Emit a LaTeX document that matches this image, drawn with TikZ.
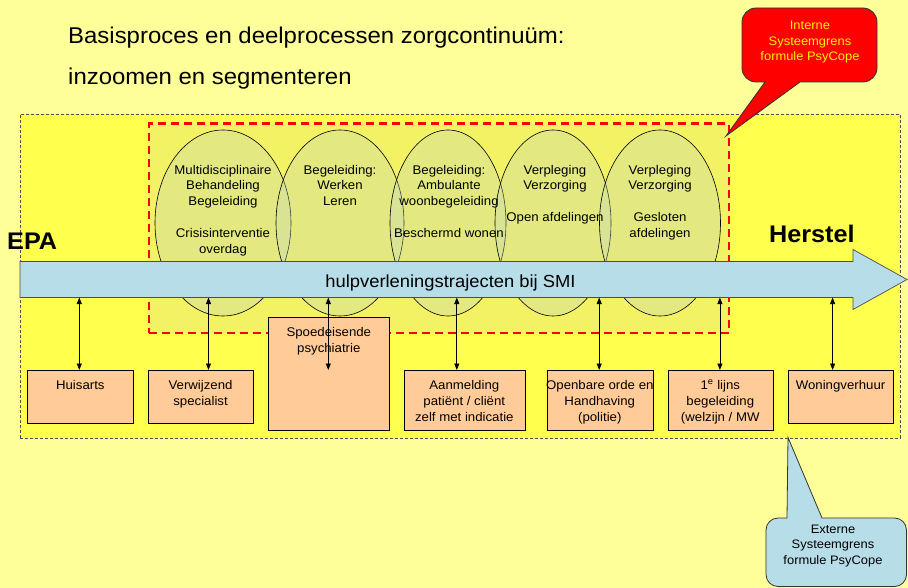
\documentclass[tikz,border=0pt]{standalone}
\usepackage{fontspec}
\setmainfont{Liberation Sans}[FakeStretch=1.05]
\usetikzlibrary{shapes.geometric,arrows.meta}

\definecolor{paleyellow}{HTML}{FFFF99}
\definecolor{brightyellow}{HTML}{FFFF4D}
\definecolor{zonefill}{RGB}{242,242,100}
\definecolor{ovalfill}{RGB}{195,215,195}
\definecolor{barblue}{HTML}{B7DDE8}
\definecolor{peach}{HTML}{FFCC99}
\definecolor{edgegray}{HTML}{4D4D4D}

\newcommand{\txtsize}{\fontsize{12.6}{15.8}\selectfont}

\begin{document}
\begin{tikzpicture}[x=1pt,y=-1pt,
  outerzone/.style={draw=edgegray, line width=0.7pt, dash pattern=on 3pt off 2pt,
    fill=brightyellow, inner sep=0pt, anchor=north west},
  innerzone/.style={draw=red, line width=2.2pt, dash pattern=on 8pt off 5pt,
    fill=zonefill, inner sep=0pt, anchor=north west},
  oval/.style={ellipse, draw=black, line width=0.6pt, fill=ovalfill,
    fill opacity=0.3, inner sep=0pt},
  ovaltext/.style={font=\txtsize, align=center, inner sep=0pt, anchor=north},
  fillbox/.style={draw=black, line width=0.6pt, fill=peach, inner sep=0pt,
    anchor=north west},
  boxtext/.style={font=\fontsize{12.6}{16}\selectfont, align=center,
    inner sep=0pt, anchor=north},
  link/.style={line width=0.8pt, >={Triangle[length=6.5pt,width=5pt]}, <->},
  calloutline/.style={line width=0.8pt, draw=black!80},
  callouttext/.style={font=\fontsize{12.3}{15.5}\selectfont, align=center,
    inner sep=0pt, anchor=north}
]
\useasboundingbox (0,0) rectangle (908,588);
\fill[paleyellow] (0,0) rectangle (908,588);

% headings
\node[anchor=base west, inner sep=0pt, font=\fontsize{22.8}{27}\selectfont]
  (title1) at (68,43.7) {Basisproces en deelprocessen zorgcontinuüm:};
\node[anchor=base west, inner sep=0pt, font=\fontsize{22.8}{27}\selectfont]
  (title2) at (68,85) {inzoomen en segmenteren};

% outer (external) system boundary
\node[outerzone, minimum width=880pt, minimum height=324pt] (zone) at (20,114) {};

% inner (internal) system boundary
\node[innerzone, minimum width=580pt, minimum height=209pt] (intern) at (147.5,122.5) {};

% care processes
\node[oval, minimum width=136pt, minimum height=186pt] (e1) at (223,223) {};
\node[oval, minimum width=128pt, minimum height=186pt] (e2) at (340,223) {};
\node[oval, minimum width=116pt, minimum height=186pt] (e3) at (448,223) {};
\node[oval, minimum width=116pt, minimum height=186pt] (e4) at (553,223) {};
\node[oval, minimum width=121pt, minimum height=186pt] (e5) at (660,223) {};

\node[ovaltext] (t1) at (223,164.8)
  {Multidisciplinaire\\Behandeling\\Begeleiding\\[15.8pt]Crisisinterventie\\overdag};
\node[ovaltext] (t2) at (340,164.8) {Begeleiding:\\Werken\\Leren};
\node[ovaltext] (t3) at (449,164.8)
  {Begeleiding:\\Ambulante\\woonbegeleiding\\[15.8pt]Beschermd wonen};
\node[ovaltext] (t4) at (555,164.8) {Verpleging\\Verzorging\\[15.8pt]Open afdelingen};
\node[ovaltext] (t5) at (660,164.8)
  {Verpleging\\Verzorging\\[15.8pt]Gesloten\\afdelingen};

% main trajectory arrow
\draw[fill=barblue, draw=edgegray, line width=0.7pt]
  (20,261.5) -- (853,261.5) -- (853,249.5) -- (907,279.5) -- (853,309.5)
  -- (853,297.5) -- (20,297.5) -- cycle;
\node[anchor=base, inner sep=0pt, font=\fontsize{17.5}{21}\selectfont]
  (barlabel) at (450.5,287.3) {hulpverleningstrajecten bij SMI};

\node[anchor=base west, inner sep=0pt, font=\bfseries\fontsize{24}{28}\selectfont]
  (epa) at (7,250) {EPA};
\node[anchor=base west, inner sep=0pt, font=\bfseries\fontsize{24}{28}\selectfont]
  (herstel) at (769,242.7) {Herstel};

% partners
\node[fillbox, minimum width=106pt, minimum height=53pt] (huis) at (27,370) {};
\node[fillbox, minimum width=105.5pt, minimum height=53pt] (verw) at (147.5,370) {};
\node[fillbox, minimum width=121pt, minimum height=113pt] (spoed) at (268,317) {};
\node[fillbox, minimum width=121pt, minimum height=60pt] (aanm) at (403.5,370) {};
\node[fillbox, minimum width=106pt, minimum height=60pt] (orde) at (546.5,370) {};
\node[fillbox, minimum width=105pt, minimum height=60pt] (lijn) at (667.5,370) {};
\node[fillbox, minimum width=105.5pt, minimum height=53pt] (woning) at (787.5,370) {};

\node[boxtext] (huist) at ([yshift=-9.8pt]huis.north) {Huisarts};
\node[boxtext] (verwt) at ([yshift=-9.8pt]verw.north) {Verwijzend\\specialist};
\node[boxtext] (spoedt) at ([yshift=-9.8pt]spoed.north) {Spoedeisende\\psychiatrie};
\node[boxtext] (aanmt) at ([yshift=-9.8pt]aanm.north)
  {Aanmelding\\patiënt / cliënt\\zelf met indicatie};
\node[boxtext] (ordet) at ([yshift=-9.8pt]orde.north)
  {Openbare orde en\\Handhaving\\(politie)};
\node[boxtext] (lijnt) at ([yshift=-9.8pt]lijn.north)
  {1\smash{\textsuperscript{e}} lijns\\begeleiding\\(welzijn / MW};
\node[boxtext] (woningt) at ([yshift=-9.8pt]woning.north) {Woningverhuur};

% links between trajectory and partners
\coordinate (l1a) at (79.3,297.5);  \coordinate (l1b) at (79.3,370);
\coordinate (l2a) at (208.5,297.5); \coordinate (l2b) at (208.5,370);
\coordinate (l3a) at (328.3,297.5); \coordinate (l3b) at (328.3,370);
\coordinate (l4a) at (456.8,297.5); \coordinate (l4b) at (456.8,370);
\coordinate (l5a) at (599.2,297.5); \coordinate (l5b) at (599.2,370);
\coordinate (l6a) at (719.9,297.5); \coordinate (l6b) at (719.9,370);
\coordinate (l7a) at (832.6,297.5); \coordinate (l7b) at (832.6,370);
\foreach \k in {1,...,7} \draw[link] (l\k a) -- (l\k b);

% callout: internal boundary
\coordinate (rtip) at (726,136);
\draw[calloutline, fill=red]
  (rtip) -- (765,82) -- (756,82) arc[start angle=90,end angle=180,radius=14]
  -- (742,22) arc[start angle=180,end angle=270,radius=14]
  -- (863,8) arc[start angle=270,end angle=360,radius=14]
  -- (877,68) arc[start angle=0,end angle=90,radius=14]
  -- (800,82) -- cycle;
\node[callouttext, text=yellow] (rtext) at (810,21)
  {Interne\\Systeemgrens\\formule PsyCope};

% callout: external boundary
\coordinate (btip) at (788,437.5);
\draw[calloutline, fill=barblue]
  (btip) -- (822,518) -- (894.5,518) arc[start angle=270,end angle=360,radius=12]
  -- (906.5,574.5) arc[start angle=0,end angle=90,radius=12]
  -- (778,586.5) arc[start angle=90,end angle=180,radius=12]
  -- (766,530) arc[start angle=180,end angle=270,radius=12]
  -- (787,518) -- cycle;
\node[callouttext] (btext) at (833,524.5)
  {Externe\\Systeemgrens\\formule PsyCope};
\end{tikzpicture}
\end{document}
